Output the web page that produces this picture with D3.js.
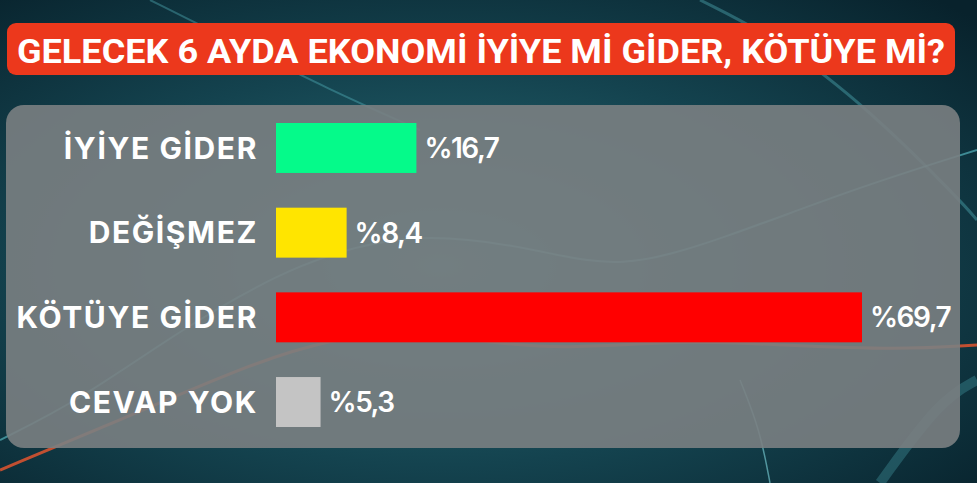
<!DOCTYPE html>
<html><head><meta charset="utf-8">
<script src="https://cdn.jsdelivr.net/npm/d3@7"></script>
<style>html,body{margin:0;padding:0;background:#0b2a35;overflow:hidden}</style>
</head><body>
<script>
const title = "GELECEK 6 AYDA EKONOMİ İYİYE Mİ GİDER, KÖTÜYE Mİ?";
const categories = ["İYİYE GİDER", "DEĞİŞMEZ", "KÖTÜYE GİDER", "CEVAP YOK"];
const values = [16.7, 8.4, 69.7, 5.3];
const valueLabels = ["%16,7", "%8,4", "%69,7", "%5,3"];
const colors = ["#05fa8a", "#ffe500", "#ff0000", "#c4c4c4"];

const W = 977, H = 483;
const svg = d3.select("body").append("svg").attr("width", W).attr("height", H);
const defs = svg.append("defs");

// background
const rg = defs.append("radialGradient").attr("id","bg").attr("cx","45%").attr("cy","55%").attr("r","75%");
rg.append("stop").attr("offset","0%").attr("stop-color","#2a6f78");
rg.append("stop").attr("offset","55%").attr("stop-color","#14434f");
rg.append("stop").attr("offset","100%").attr("stop-color","#08222c");
svg.append("rect").attr("width",W).attr("height",H).attr("fill","url(#bg)");

// decorative background strokes
const deco = svg.append("g").attr("fill","none");
const line = d3.line().curve(d3.curveBasis);
deco.append("path").attr("d", line([[0,470],[120,420],[260,360],[330,340],[400,330],[470,340],[560,350],[680,340],[780,345],[900,350],[977,345]]))
  .attr("stroke","#e0552f").attr("stroke-width",3).attr("opacity",0.85);
deco.append("path").attr("d", line([[0,440],[80,400],[180,330],[300,260],[420,230],[540,250],[620,270],[720,240],[850,190],[977,150]]))
  .attr("stroke","#5fc6cf").attr("stroke-width",2).attr("opacity",0.6);
deco.append("path").attr("d", line([[150,0],[230,40],[330,90],[420,130]]))
  .attr("stroke","#5fc6cf").attr("stroke-width",2).attr("opacity",0.35);
deco.append("path").attr("d", line([[700,0],[780,40],[870,110],[960,200],[977,220]]))
  .attr("stroke","#5fc6cf").attr("stroke-width",3).attr("opacity",0.35);
deco.append("path").attr("d", line([[740,380],[760,430],[770,483]]))
  .attr("stroke","#7fd6de").attr("stroke-width",1.5).attr("opacity",0.6);
deco.append("path").attr("d", line([[880,483],[940,400],[977,380]]))
  .attr("stroke","#4fb0bb").attr("stroke-width",10).attr("opacity",0.3);

// title banner
svg.append("rect").attr("x",7).attr("y",23).attr("width",948).attr("height",52).attr("rx",9)
  .attr("fill","#ec381c");
svg.append("text").attr("x",481).attr("y",63).attr("text-anchor","middle")
  .attr("font-family","Roboto, 'Open Sans', sans-serif").attr("font-weight",700)
  .attr("font-size",33).attr("fill","#ffffff")
  .attr("textLength",928).attr("lengthAdjust","spacingAndGlyphs")
  .text(title);

// panel
svg.append("rect").attr("x",6).attr("y",105).attr("width",954).attr("height",343).attr("rx",18)
  .attr("fill","#7a7f82").attr("opacity",0.9);

// scales
const x = d3.scaleLinear().domain([0, d3.max(values)]).range([276, 862]);
const y = d3.scaleBand().domain(categories).range([123, 427]).paddingInner(0.41).paddingOuter(0);

const g = svg.append("g");
g.selectAll("rect.bar").data(categories).join("rect").attr("class","bar")
  .attr("x", x(0)).attr("y", d => y(d))
  .attr("width", (d,i) => x(values[i]) - x(0)).attr("height", y.bandwidth())
  .attr("fill", (d,i) => colors[i]);

g.selectAll("text.cat").data(categories).join("text").attr("class","cat")
  .attr("x", 258).attr("y", d => y(d) + y.bandwidth()/2)
  .attr("dy","0.36em").attr("text-anchor","end")
  .attr("font-family","Inter, 'Open Sans', sans-serif").attr("font-weight",700)
  .attr("font-size",30).attr("letter-spacing",1.6).attr("fill","#ffffff")
  .text(d => d);

g.selectAll("text.val").data(categories).join("text").attr("class","val")
  .attr("x", (d,i) => x(values[i]) + 8).attr("y", d => y(d) + y.bandwidth()/2)
  .attr("dy","0.36em").attr("text-anchor","start")
  .attr("font-family","Inter, 'Open Sans', sans-serif").attr("font-weight",600)
  .attr("font-size",28).attr("letter-spacing",-1.5).attr("fill","#ffffff")
  .text((d,i) => valueLabels[i]);
</script>
</body></html>
